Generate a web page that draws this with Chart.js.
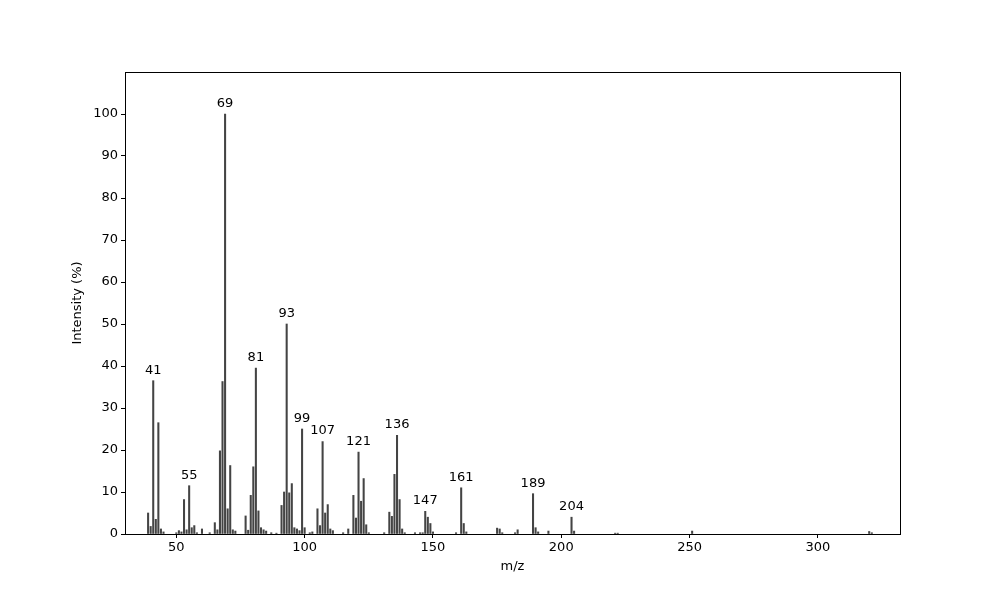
<!DOCTYPE html>
<html><head><meta charset="utf-8">
<script src="https://cdn.jsdelivr.net/npm/chart.js@4.4.1/dist/chart.umd.min.js"></script>
<style>body{margin:0;background:#fff}</style></head>
<body><canvas id="c" width="1000" height="600"></canvas>
<script>
const mz = [39,40,41,42,43,44,45,50,51,52,53,54,55,56,57,58,60,63,65,66,67,68,69,70,71,72,73,77,78,79,80,81,82,83,84,85,87,89,91,92,93,94,95,96,97,98,99,100,102,103,105,106,107,108,109,110,111,115,117,119,120,121,122,123,124,125,131,133,134,135,136,137,138,139,143,145,146,147,148,149,150,159,161,162,163,175,176,177,182,183,189,190,191,195,204,205,221,222,251,320,321];
const intensity = [5,1.8,36.5,3.5,26.5,1.2,0.5,0.3,0.8,0.5,8.2,1,11.5,1.5,2,0.3,1.2,0.3,2.7,1,19.8,36.3,100,6,16.3,1,0.7,4.3,0.9,9.2,16,39.5,5.5,1.5,1,0.7,0.3,0.2,6.8,10,50,9.8,12,1.5,1.2,0.8,25,1.5,0.3,0.5,6,2,22,5,7,1.2,0.8,0.3,1.2,9.2,3.8,19.5,7.8,13.2,2.2,0.3,0.3,5.2,4.2,14.2,23.5,8.2,1.2,0.3,0.3,0.3,0.3,5.4,4,2.5,0.5,0.3,11,2.5,0.5,1.4,1.2,0.3,0.3,1,9.6,1.5,0.5,0.7,4,0.7,0.2,0.2,0.7,0.6,0.3];
const labeledPeaks = [41,55,69,81,93,99,107,121,136,147,161,189,204];
const yTicks = [0,10,20,30,40,50,60,70,80,90,100];
const xTicks = [50,100,150,200,250,300];

const font = {family:'DejaVu Sans', size:13};
const labelPlugin = {
  id:'peakLabels',
  afterDatasetsDraw(chart){
    const ctx = chart.ctx, xs = chart.scales.x, ys = chart.scales.y;
    ctx.save();
    ctx.font = '13px DejaVu Sans'; ctx.fillStyle = '#000';
    ctx.textAlign = 'center'; ctx.textBaseline = 'bottom';
    labeledPeaks.forEach(m => {
      const v = intensity[mz.indexOf(m)];
      ctx.fillText(String(m), xs.getPixelForValue(m), ys.getPixelForValue(v) - 4);
    });
    const a = chart.chartArea;
    ctx.strokeStyle = '#000'; ctx.lineWidth = 1;
    ctx.strokeRect(Math.round(a.left)+0.5, Math.round(a.top)+0.5, Math.round(a.right-a.left), Math.round(a.bottom-a.top));
    ctx.restore();
  }
};

new Chart(document.getElementById('c'), {
  type:'bar',
  data:{datasets:[{data: mz.map((m,i)=>({x:m,y:intensity[i]})), backgroundColor:'#444', barThickness:1.4}]},
  options:{
    responsive:false, animation:false,
    layout:{padding:{top:72,right:100,left:66,bottom:22}},
    plugins:{legend:{display:false}, tooltip:{enabled:false}},
    scales:{
      x:{type:'linear', min:30, max:332, offset:false,
        afterBuildTicks: s => { s.ticks = xTicks.map(v=>({value:v})); },
        afterFit: s => { s.height = 44; },
        grid:{drawOnChartArea:false, color:'#000', tickLength:4, offset:false},
        border:{color:'#000'},
        ticks:{color:'#000', font, padding:2},
        title:{display:true, text:'m/z', color:'#000', font, padding:{top:2}}},
      y:{min:0, max:110,
        afterBuildTicks: s => { s.ticks = yTicks.map(v=>({value:v})); },
        afterFit: s => { s.width = 59; },
        grid:{drawOnChartArea:false, color:'#000', tickLength:4},
        border:{color:'#000'},
        ticks:{color:'#000', font, padding:3},
        title:{display:true, text:'Intensity (%)', color:'#000', font, padding:{bottom:8}}}
    }
  },
  plugins:[labelPlugin]
});
</script></body></html>
